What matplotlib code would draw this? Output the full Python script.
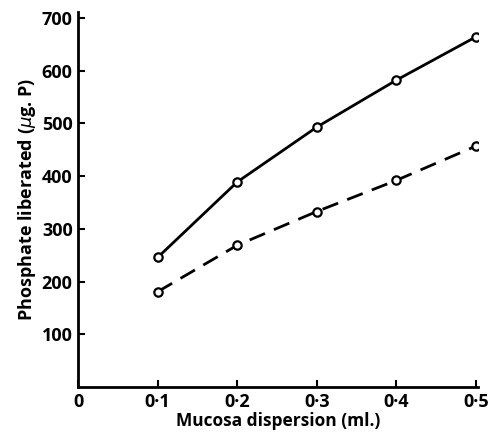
import matplotlib
matplotlib.use("Agg")
import matplotlib.pyplot as plt

# data
dispersion = [0.1, 0.2, 0.3, 0.4, 0.5]
solid_vals = [246, 389, 493, 582, 664]
dashed_vals = [181, 269, 333, 392, 457]

x_ticks = [0, 0.1, 0.2, 0.3, 0.4, 0.5]
x_labels = ["0", "0·1", "0·2", "0·3", "0·4", "0·5"]
y_ticks = [100, 200, 300, 400, 500, 600, 700]

plt.rcParams['font.family'] = ['Open Sans', 'DejaVu Sans']
plt.rcParams['mathtext.fontset'] = 'dejavusans'

fig = plt.figure(figsize=(4.95, 4.34), dpi=100)
ax = fig.add_axes([0.158, 0.108, 0.808, 0.864])

ax.plot(dispersion, solid_vals, '-', color='black', lw=2.0,
        marker='o', ms=6, mfc='white', mec='black', mew=1.6)
ax.plot(dispersion, dashed_vals, '--', color='black', lw=2.0, dashes=(6, 3.5),
        marker='o', ms=6, mfc='white', mec='black', mew=1.6)

ax.set_xlim(0, 0.503)
ax.set_ylim(0, 711)
ax.spines['top'].set_visible(False)
ax.spines['right'].set_visible(False)
ax.spines['left'].set_linewidth(2)
ax.spines['bottom'].set_linewidth(2)

ax.set_xticks(x_ticks)
ax.set_xticklabels(x_labels)
ax.set_yticks(y_ticks)
ax.tick_params(direction='in', length=5, width=1.5, labelsize=13, pad=4)
for lab in ax.get_xticklabels() + ax.get_yticklabels():
    lab.set_fontweight('bold')

ax.set_xlabel("Mucosa dispersion (ml.)", fontsize=12.5, fontweight='bold', labelpad=1)
ax.set_ylabel(r"Phosphate liberated ($\mu$g. P)", fontsize=13,
              fontweight='bold', labelpad=3)

fig.savefig("out.png", dpi=100)
